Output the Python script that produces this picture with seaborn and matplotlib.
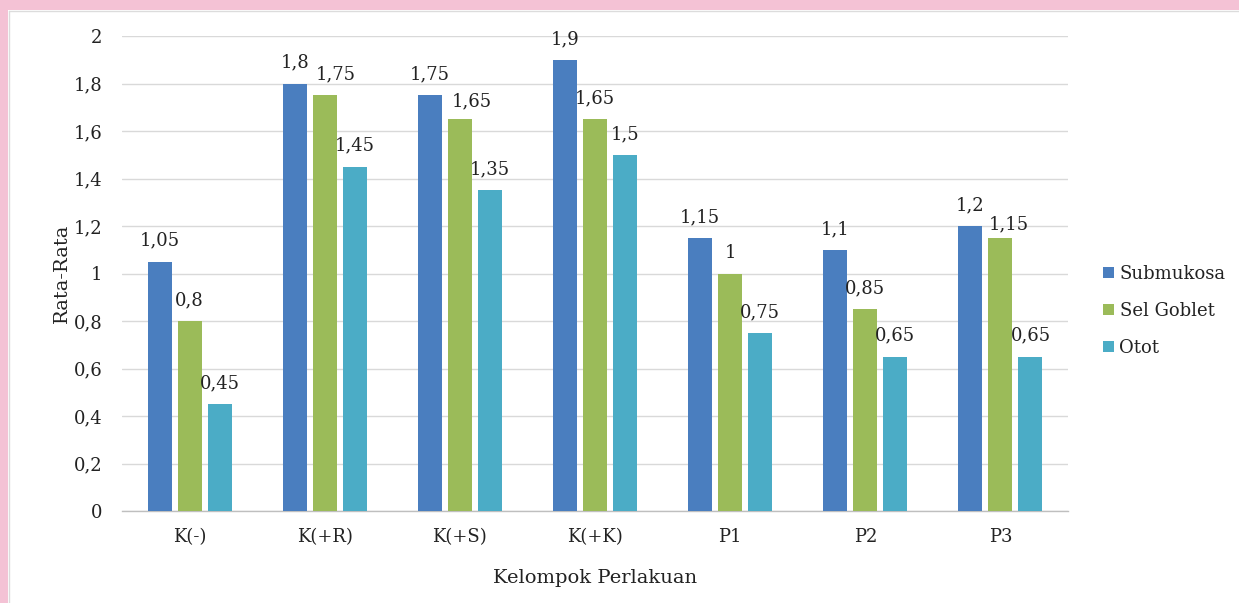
import matplotlib
matplotlib.use("Agg")
import matplotlib.pyplot as plt
import seaborn as sns
import pandas as pd
from matplotlib.patches import Rectangle
from matplotlib.lines import Line2D

# Data
categories = ["K(-)", "K(+R)", "K(+S)", "K(+K)", "P1", "P2", "P3"]
submukosa = [1.05, 1.8, 1.75, 1.9, 1.15, 1.1, 1.2]
sel_goblet = [0.8, 1.75, 1.65, 1.65, 1.0, 0.85, 1.15]
otot = [0.45, 1.45, 1.35, 1.5, 0.75, 0.65, 0.65]
series_names = ["Submukosa", "Sel Goblet", "Otot"]
y_ticks = [0, 0.2, 0.4, 0.6, 0.8, 1.0, 1.2, 1.4, 1.6, 1.8, 2.0]

colors = ["#4A7EBF", "#9BBB59", "#4BACC6"]

# Value labels nudged sideways (points) where neighbouring labels would collide:
# key = (series index, category index) -> (dx, dy)
label_nudge = {
    (1, 1): (8, 0),
    (1, 2): (8.5, -2),
    (1, 6): (6, -5),
}


def fmt(v):
    return f"{v:g}".replace(".", ",")


rows = []
for name, vals in zip(series_names, [submukosa, sel_goblet, otot]):
    for cat, v in zip(categories, vals):
        rows.append({"Kelompok": cat, "Nilai": v, "Seri": name})
df = pd.DataFrame(rows)

sns.set_style("white")
plt.rcParams["font.family"] = ["DejaVu Serif"]
text_color = "#222222"

fig = plt.figure(figsize=(12.39, 6.03), dpi=100)
fig.patch.set_facecolor("white")

# Pink frame strips along top and left edges
fig.add_artist(Rectangle((0, 1 - 10 / 603), 1, 10 / 603, transform=fig.transFigure,
                         facecolor="#F4C2D5", edgecolor="none", zorder=0))
fig.add_artist(Rectangle((0, 0), 8 / 1239, 1, transform=fig.transFigure,
                         facecolor="#F4C2D5", edgecolor="none", zorder=0))
fig.add_artist(Line2D([8.5 / 1239, 1], [1 - 10.5 / 603, 1 - 10.5 / 603], transform=fig.transFigure,
                      color="#DCDCDC", lw=1))
fig.add_artist(Line2D([8.5 / 1239, 8.5 / 1239], [0, 1 - 10.5 / 603], transform=fig.transFigure,
                      color="#DCDCDC", lw=1))

ax = fig.add_axes([122 / 1239, 1 - 511 / 603, (1068 - 122) / 1239, (511 - 36) / 603])

sns.barplot(data=df, x="Kelompok", y="Nilai", hue="Seri", hue_order=series_names,
            order=categories, palette=colors, saturation=1, width=0.667, gap=0.2,
            linewidth=0, ax=ax, zorder=3)

# Value labels above each bar
for si, (cont, vals) in enumerate(zip(ax.containers, [submukosa, sel_goblet, otot])):
    for ci, (bar, v) in enumerate(zip(cont, vals)):
        dx, dy = label_nudge.get((si, ci), (0, 0))
        ax.annotate(fmt(v), xy=(bar.get_x() + bar.get_width() / 2, bar.get_height()),
                    xytext=(dx, 8.5 + dy), textcoords="offset points",
                    ha="center", va="bottom", fontsize=13, color=text_color)

ax.set_xlim(-0.5, len(categories) - 0.5)
ax.set_ylim(0, 2)
ax.set_yticks(y_ticks)
ax.set_yticklabels([fmt(v) for v in y_ticks])
ax.yaxis.grid(True, color="#D9D9D9", lw=1, zorder=0)
ax.set_axisbelow(True)

for side in ["top", "right", "left"]:
    ax.spines[side].set_visible(False)
ax.spines["bottom"].set_color("#BFBFBF")
ax.spines["bottom"].set_linewidth(1)

ax.tick_params(axis="y", length=0, pad=14, labelsize=13, labelcolor=text_color)
ax.tick_params(axis="x", which="major", length=0, pad=12, labelsize=13, labelcolor=text_color)
ax.set_xticks([i - 0.5 for i in range(len(categories) + 1)], minor=True)
ax.tick_params(axis="x", which="minor", length=6, color="#BFBFBF", width=1)

ax.set_xlabel("Kelompok Perlakuan", fontsize=14, color=text_color, labelpad=17)
ax.set_ylabel("Rata-Rata", fontsize=14, color=text_color, labelpad=2)

handles, labels = ax.get_legend_handles_labels()
ax.get_legend().remove()
fig.legend(handles, labels, loc="center left", bbox_to_anchor=(1087 / 1239, 1 - 311 / 603),
           frameon=False, handlelength=0.6, handleheight=0.6, handletextpad=0.3,
           labelspacing=1.05, fontsize=13, labelcolor=text_color)

fig.savefig("out.png", dpi=100, facecolor="white")
